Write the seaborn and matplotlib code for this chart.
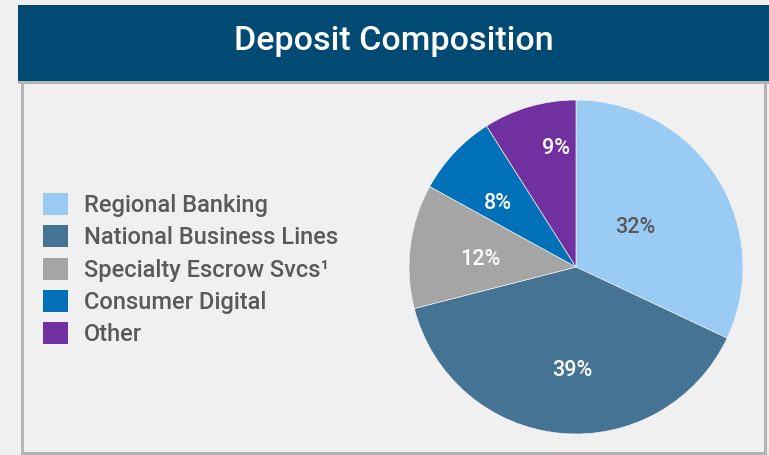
import matplotlib
matplotlib.use("Agg")
import matplotlib.pyplot as plt
import matplotlib.transforms as mtransforms
from matplotlib.patches import Rectangle, Patch
import numpy as np
import seaborn as sns

title = "Deposit Composition"
categories = ["Regional Banking", "National Business Lines", "Specialty Escrow Svcs\u00b9",
              "Consumer Digital", "Other"]
values = [32, 39, 12, 8, 9]
colors = ["#99cbf5", "#457394", "#a5a5a5", "#0070b8", "#7030a0"]
label_colors = ["#595959", "white", "white", "white", "white"]
label_dist = [0.44, 0.605, 0.578, 0.615, 0.735]
label_angle_shift = [3.2, 3.1, 1.2, 2.5, -6.8]

sns.set_style("white")
plt.rcParams['font.family'] = ['Roboto', 'DejaVu Sans']
palette = sns.color_palette(colors)

W, H = 769, 455
fig = plt.figure(figsize=(W / 100, H / 100), dpi=100)
fig.patch.set_facecolor("#f0f0f0")

def px_rect(x0, y0, x1, y1, **kw):
    r = Rectangle((x0 / W, 1 - y1 / H), (x1 - x0) / W, (y1 - y0) / H,
                  transform=fig.transFigure, zorder=-5, **kw)
    fig.patches.append(r)

px_rect(21.5, 82, 764.5, 452.5, facecolor="#f0f0f0", edgecolor="#b4b4b4", linewidth=2.2)
px_rect(18, 5, 769, 81, facecolor="#004a73", edgecolor="none")
px_rect(18, 81, 769, 84, facecolor="#b4b4b4", edgecolor="none")

fig.text(394 / W, 1 - 41 / H, title, ha="center", va="center", color="white",
         fontsize=24.5, fontweight="medium")

cx, cy, r = 576, 267, 167
ax = fig.add_axes([(cx - r) / W, 1 - (cy + r) / H, 2 * r / W, 2 * r / H])
ax.set_zorder(2)
ax.patch.set_visible(False)
wedges, texts = ax.pie(values, colors=palette, startangle=90, counterclock=False,
                       radius=1, wedgeprops=dict(linewidth=0.5, edgecolor="#f0f0f0"))
total = sum(values)
shift = mtransforms.ScaledTranslation(0, -3 / 100, fig.dpi_scale_trans)
for v, w, lc, d, s in zip(values, wedges, label_colors, label_dist, label_angle_shift):
    ang = np.deg2rad((w.theta1 + w.theta2) / 2 + s)
    ax.text(d * np.cos(ang), d * np.sin(ang), f"{round(100 * v / total)}%", ha="center",
            va="center", color=lc, fontsize=15.5, fontweight="medium",
            transform=ax.transData + shift)
ax.set_xlim(-1, 1)
ax.set_ylim(-1, 1)
ax.set_aspect("equal")
ax.axis("off")

handles = [Patch(facecolor=c, edgecolor="none") for c in palette]
leg = fig.legend(handles, categories, loc="upper left", bbox_to_anchor=(43 / W, 1 - 193 / H),
                 frameon=False, fontsize=17, labelcolor="#595959", borderpad=0,
                 borderaxespad=0, handlelength=1.06, handleheight=1.06, handletextpad=0.68,
                 labelspacing=0.35, prop=dict(family=['Roboto', 'DejaVu Sans'], size=17,
                                              weight='medium'))

fig.savefig("out.png", dpi=100, facecolor=fig.get_facecolor())
